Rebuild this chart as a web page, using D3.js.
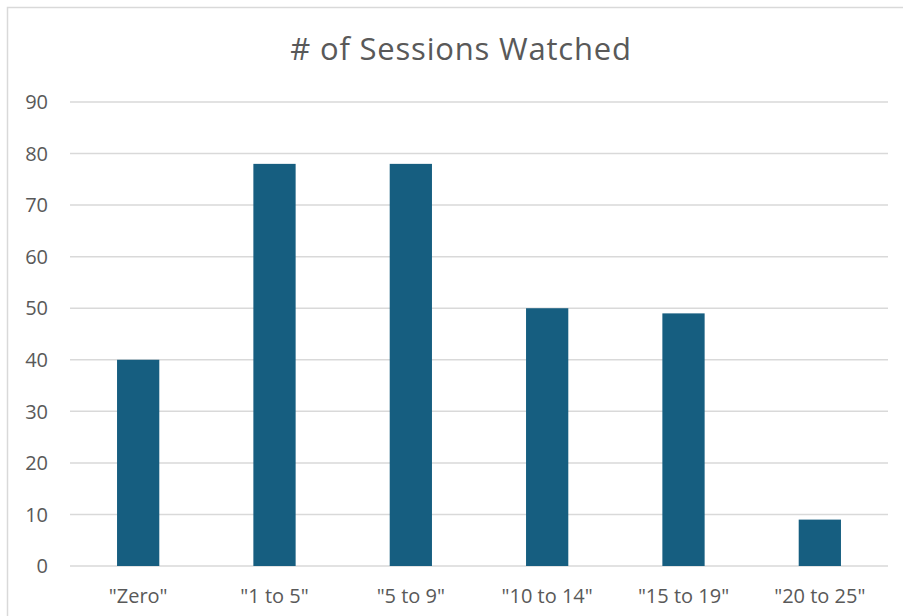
<!DOCTYPE html>
<html>
<head>
<meta charset="utf-8">
<script src="https://cdn.jsdelivr.net/npm/d3@7"></script>
<style>
  body { margin: 0; background: #fff; }
  text { font-family: "Open Sans", "Liberation Sans", sans-serif; fill: #595959; }
</style>
</head>
<body>
<div id="chart"></div>
<script>
// data
var categories = ['"Zero"', '"1 to 5"', '"5 to 9"', '"10 to 14"', '"15 to 19"', '"20 to 25"'];
var sessions = [40, 78, 78, 50, 49, 9];
var yTicks = [0, 10, 20, 30, 40, 50, 60, 70, 80, 90];

var width = 903, height = 616;
var margin = {top: 102, right: 15, bottom: 50, left: 70};

var svg = d3.select("#chart").append("svg")
    .attr("width", width)
    .attr("height", height);

// chart border (cropped on right and bottom)
svg.append("rect")
    .attr("x", 7.5).attr("y", 7.5)
    .attr("width", width + 20).attr("height", height + 20)
    .attr("fill", "none")
    .attr("stroke", "#d9d9d9")
    .attr("stroke-width", 1.5);

var x = d3.scaleBand()
    .domain(categories)
    .range([margin.left, width - margin.right])
    .paddingInner(0.69)
    .paddingOuter(0.345);

var y = d3.scaleLinear()
    .domain([0, 90])
    .range([height - margin.bottom, margin.top]);

//gridlines
svg.append("g")
    .selectAll("line")
    .data(yTicks)
    .enter().append("line")
    .attr("x1", margin.left)
    .attr("x2", width - margin.right)
    .attr("y1", function (d) { return y(d); })
    .attr("y2", function (d) { return y(d); })
    .attr("stroke", "#d9d9d9")
    .attr("stroke-width", 1.5);

//y axis labels
svg.append("g")
    .selectAll("text")
    .data(yTicks)
    .enter().append("text")
    .attr("x", 48)
    .attr("y", function (d) { return y(d); })
    .attr("dy", "0.36em")
    .attr("text-anchor", "end")
    .style("font-size", "20px")
    .text(function (d) { return d; });

//bars
svg.append("g")
    .selectAll("rect")
    .data(sessions)
    .enter().append("rect")
    .attr("x", function (d, i) { return x(categories[i]); })
    .attr("y", function (d) { return y(d); })
    .attr("width", x.bandwidth())
    .attr("height", function (d) { return y(0) - y(d); })
    .attr("fill", "#165e80");

//x labels
svg.append("g")
    .selectAll("text")
    .data(categories)
    .enter().append("text")
    .attr("x", function (d) { return x(d) + x.bandwidth() / 2; })
    .attr("y", 603)
    .attr("text-anchor", "middle")
    .style("font-size", "20px")
    .text(function (d) { return d; });

//title
svg.append("text")
    .attr("x", 461)
    .attr("y", 60)
    .attr("text-anchor", "middle")
    .style("font-size", "31px")
    .style("letter-spacing", "0.8px")
    .text("# of Sessions Watched");
</script>
</body>
</html>
